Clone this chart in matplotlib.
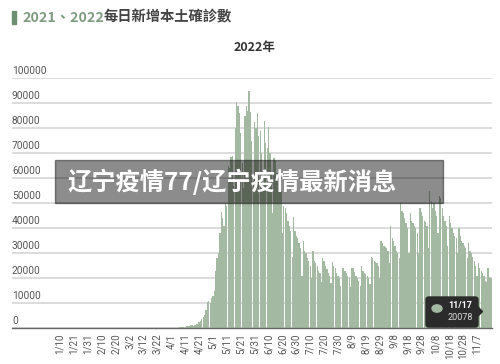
import numpy as np
import pandas as pd
import matplotlib
matplotlib.use("Agg")
import matplotlib.pyplot as plt
import matplotlib.transforms as mtransforms
from matplotlib.patches import Rectangle, FancyBboxPatch, Polygon, Circle

# daily local cases 2022 (1/15 missing in the source chart)
jan_vals = [2, 3, 8, 10, 12, 15, 20, 28, 30, 35, 42, 38, 45, 52,
            60, 68, 75, 82, 70, 64, 58, 50, 42, 36, 30, 24, 20, 18, 15, 12]
feb_vals = [10, 8, 6, 9, 12, 15, 20, 25, 30, 28, 22, 18, 15, 12,
            10, 12, 15, 18, 20, 22, 25, 28, 30, 26, 22, 20, 18, 15]
mar_vals = [12, 15, 18, 20, 22, 25, 28, 30, 32, 30, 28, 30, 35, 40, 45, 48,
            50, 52, 55, 58, 60, 62, 65, 70, 72, 75, 78, 80, 85, 90, 95]
apr_vals = [100, 140, 110, 150, 100, 170, 240, 250, 320, 300, 400, 720, 800, 860, 1200,
            1100, 950, 1400, 1600, 1700, 2500, 3000, 3600, 4600, 5200, 7200, 10500,
            11000, 10000, 12000]
may_vals = [13000, 15000, 23000, 28000, 30000, 38000, 46500, 44000, 41000, 50000, 49000,
            65000, 64000, 68500, 69000, 57000, 80000, 90500, 89000, 86000, 78000, 66000,
            56000, 85000, 89000, 87000, 95000, 86500, 75000, 59000, 82500]
jun_vals = [80000, 86000, 77000, 79000, 70000, 55000, 83000, 74000, 72000, 80500, 70000,
            62000, 46000, 68000, 67000, 62000, 60000, 57000, 55000, 38000, 49000, 48000,
            46000, 43000, 41000, 39000, 28500, 44500, 39000, 37000]
jul_vals = [36000, 34000, 32000, 21000, 35000, 31000, 30000, 28000, 27000, 25000, 20000,
            31000, 27000, 26000, 25000, 23000, 22000, 18500, 28000, 27000, 25000, 23500,
            22000, 21000, 18000, 26500, 25000, 24000, 22000, 21000, 20000]
aug_vals = [17000, 24000, 24000, 23000, 22000, 21000, 20000, 16500, 24000, 24000, 22500,
            21000, 20000, 19000, 17000, 25000, 23000, 22000, 21500, 21000, 20000, 17500,
            28500, 28000, 27000, 26500, 26000, 25000, 20000, 35000, 34000]
sep_vals = [33000, 32500, 32000, 31000, 26000, 41000, 36000, 35000, 33000, 31000, 30000,
            28000, 50000, 47000, 46000, 44000, 42000, 40000, 30000, 46000, 43000, 42000,
            41000, 40000, 38000, 30000, 48000, 46500, 45000, 43000]
oct_vals = [42500, 41000, 32000, 55000, 51000, 48000, 50000, 47000, 45000, 38000, 53000,
            52000, 48000, 45000, 43000, 41000, 33000, 45000, 42000, 40000, 38000, 37000,
            36000, 30000, 40000, 37000, 35000, 34000, 33000, 32000, 28000]
nov_vals = [34000, 31000, 30000, 28500, 27000, 25000, 21000, 26000, 24000, 23000, 22000,
            21000, 19000, 18500, 24000, 20500, 20078]

values = (jan_vals + feb_vals + mar_vals + apr_vals + may_vals + jun_vals
          + jul_vals + aug_vals + sep_vals + oct_vals + nov_vals)
dates = pd.date_range("2022-01-01", "2022-11-17")
dates = dates[dates != pd.Timestamp("2022-01-15")]
labels = [f"{d.month}/{d.day}" for d in dates]
x = np.arange(len(values))

bar_color = "#a4b9a1"
text_color = "#555555"

fig = plt.figure(figsize=(5, 3.64), dpi=100)
ax = fig.add_axes([0.024, 0.0989, 0.96, 0.6868])

ax.bar(x, values, width=0.9, color=bar_color, linewidth=0)

ax.set_ylim(0, 100000)
ax.set_xlim(len(values) - 345.6, len(values) - 0.2)

# grid + y labels sitting on top of the lines
yticks = list(range(0, 100001, 10000))
ax.set_yticks(yticks)
ax.yaxis.grid(True, color="#d6d6d6", lw=1.2)
ax.set_axisbelow(True)
ax.tick_params(axis="y", length=0, labelleft=False)
trans = mtransforms.blended_transform_factory(ax.transAxes, ax.transData)
for v in yticks:
    ax.text(0.0, v + 900, str(v), transform=trans, ha="left", va="bottom",
            fontsize=7.3, color=text_color, family="Roboto")

# x ticks every 10 days, counted back from the last day
tick_idx = list(range(len(values) - 11, -1, -10))[::-1]
ax.set_xticks(tick_idx)
ax.set_xticklabels([labels[i] for i in tick_idx], rotation=90, fontsize=7,
                   color=text_color, family="Roboto")
ax.tick_params(axis="x", length=0, pad=4)

for s in ["top", "right", "left"]:
    ax.spines[s].set_visible(False)
ax.spines["bottom"].set_color("#666666")
ax.spines["bottom"].set_linewidth(1.0)

# header
fig.patches.append(Rectangle((12 / 500, 1 - 24 / 364), 3.5 / 500, 13 / 364,
                             transform=fig.transFigure, color="#6f8f72"))
t1 = fig.text(22 / 500, 1 - 17.5 / 364, "2021、2022", fontsize=10.3, fontweight="bold",
              color="#7f9c82", family="Noto Sans CJK TC", va="center")
ax.annotate("每日新增本土確診數", xy=(1, 0.5), xycoords=t1, va="center", ha="left",
            fontsize=10.3, fontweight="bold", color="#444444", family="Noto Sans CJK TC",
            annotation_clip=False)
fig.text(255 / 500, 1 - 47 / 364, "2022年", fontsize=9, fontweight="bold",
         color="#333333", family="Noto Sans CJK TC", ha="center", va="center")

# overlay banner
fig.patches.append(Rectangle((55 / 500, 1 - 203 / 364), 388 / 500, 43 / 364,
                             transform=fig.transFigure, color="black", alpha=0.45,
                             zorder=5))
fig.text(67 / 500, 1 - 182 / 364, "辽宁疫情77/辽宁疫情最新消息", fontsize=17.5,
         fontweight="bold", color="white", family="Noto Sans CJK SC",
         va="center", ha="left", zorder=6)

# tooltip for the last day
tip = FancyBboxPatch((426 / 500, 1 - 327 / 364), 52 / 500, 30 / 364,
                     boxstyle="round,pad=0,rounding_size=0.006",
                     transform=fig.transFigure, color="#2b2b2b", zorder=7)
fig.patches.append(tip)
fig.patches.append(Polygon([(478 / 500, 1 - 307 / 364), (482.5 / 500, 1 - 311.5 / 364),
                            (478 / 500, 1 - 316 / 364)], closed=True,
                           transform=fig.transFigure, color="#2b2b2b", zorder=7))
fig.patches.append(Circle((437 / 500, 1 - 308.5 / 364), 5 / 500,
                          transform=fig.transFigure, color=bar_color, zorder=8))
fig.text(460 / 500, 1 - 306 / 364, labels[-1], fontsize=6.5, fontweight="bold",
         color="white", family="Roboto", ha="center", va="center", zorder=8)
fig.text(460 / 500, 1 - 317 / 364, str(values[-1]), fontsize=6.5,
         color="#dddddd", family="Roboto", ha="center", va="center", zorder=8)

fig.savefig("out.png", dpi=100)
